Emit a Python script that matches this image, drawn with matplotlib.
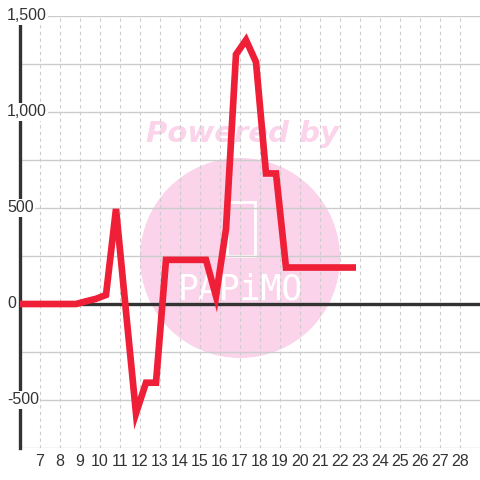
import matplotlib
matplotlib.use("Agg")
import matplotlib.pyplot as plt
from matplotlib.patches import Circle, Rectangle
from matplotlib.transforms import blended_transform_factory
from matplotlib import font_manager

# half-day samples
days = [5.8, 6.3, 6.8, 7.3, 7.8, 8.3, 8.8, 9.3, 9.8, 10.3, 10.8, 11.3,
        11.8, 12.3, 12.8, 13.3, 13.8, 14.3, 14.8, 15.3, 15.8, 16.3, 16.8,
        17.3, 17.8, 18.3, 18.8, 19.3, 19.8, 20.3, 20.8, 21.3, 21.8, 22.3, 22.8]
values = [0, 0, 0, 0, 0, 0, 0, 14, 27, 47, 495, -40,
          -570, -410, -410, 230, 230, 230, 230, 230, 40, 390, 1300,
          1375, 1260, 680, 680, 190, 190, 190, 190, 190, 190, 190, 190]

x_ticks = list(range(7, 29))
y_labels = [-500, 0, 500, 1000, 1500]
y_grid = [-750, -500, -250, 0, 250, 500, 750, 1000, 1250, 1500]

names = {f.name for f in font_manager.fontManager.ttflist}
tick_font = "Liberation Sans Narrow" if "Liberation Sans Narrow" in names else "Liberation Sans"

W = H = 480
fig = plt.figure(figsize=(4.8, 4.8), dpi=100)
ax = fig.add_axes([20 / W, 1 - 448 / H, 1 - 20 / W, (448 - 16) / H])
ax.set_xlim(6, 29)
ax.set_ylim(-750, 1500)

for s in ["top", "right", "bottom"]:
    ax.spines[s].set_visible(False)
ax.spines["left"].set_color("#333333")
ax.spines["left"].set_linewidth(2.4)
ax.spines["left"].set_zorder(3)

# grid
for v in y_grid:
    ax.axhline(v, color="#cccccc", lw=1, zorder=0.5)
for v in x_ticks:
    ax.axvline(v, color="#cccccc", lw=0.8, ls=(0, (3, 3)), zorder=0.5)
ax.axhline(0, color="#333333", lw=2.4, zorder=2)

# watermark
wm = "#fbd3ea"
ax.add_patch(Circle((240 / W, 1 - 258 / H), 100 / W, transform=fig.transFigure,
                    facecolor=wm, edgecolor="none", zorder=0.2, clip_on=False))
ax.add_patch(Rectangle((227 / W, 1 - 256 / H), 28 / W, 54 / H, transform=fig.transFigure,
                       facecolor="none", edgecolor="white", lw=2, zorder=0.3, clip_on=False))
ax.text(240 / W, 1 - 290 / H, "PAPiMO", color="white", fontsize=25,
        ha="center", va="center", family="DejaVu Sans Mono", zorder=0.3,
        transform=fig.transFigure)
ax.text(242 / W, 1 - 134 / H, "Powered by", color=wm, fontsize=21,
        fontweight="bold", fontstyle="italic", ha="center", va="center",
        transform=fig.transFigure, zorder=0.3)

ax.plot(days, values, color="#ee1f37", lw=4.8, solid_joinstyle="miter",
        solid_capstyle="butt", zorder=4)

ax.set_xticks(x_ticks)
ax.set_xticklabels([str(v) for v in x_ticks], family=tick_font, fontsize=11.5, color="#333333")
ax.tick_params(axis="x", length=0, pad=4)
ax.set_yticks([])

trans = blended_transform_factory(fig.transFigure, ax.transData)
for v in y_labels:
    ax.text(7 / W, v, f"{v:,}", transform=trans, ha="left", va="center",
            family=tick_font, fontsize=11.5, color="#333333", zorder=5, clip_on=False,
            bbox=dict(facecolor="white", edgecolor="none", pad=1))

fig.savefig("out.png", dpi=100)
